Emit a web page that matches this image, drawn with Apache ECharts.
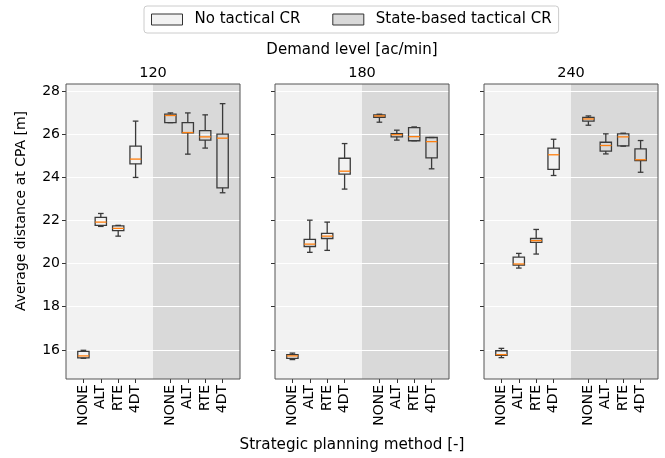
<!DOCTYPE html>
<html><head><meta charset="utf-8">
<script src="https://cdn.jsdelivr.net/npm/echarts@6/dist/echarts.min.js"></script>
<style>html,body{margin:0;padding:0;background:#fff}#c{width:665px;height:458px}</style>
</head><body><div id="c"></div>
<script>
const demandLevels = ['120', '180', '240'];
const methods = ['NONE', 'ALT', 'RTE', '4DT'];
const groups = ['No tactical CR', 'State-based tactical CR'];
const yTicks = [16, 18, 20, 22, 24, 26, 28];
const Y_MIN = 14.65, Y_MAX = 28.32;

// each row: [min, Q1, median, Q3, max] for NONE, ALT, RTE, 4DT
const noCR_120 = [
  [15.61, 15.63, 15.72, 15.93, 15.98],
  [21.72, 21.77, 21.92, 22.14, 22.32],
  [21.27, 21.53, 21.63, 21.75, 21.77],
  [23.99, 24.62, 24.84, 25.44, 26.60]
];
const stateCR_120 = [
  [26.53, 26.53, 26.86, 26.92, 26.98],
  [25.07, 26.06, 26.07, 26.53, 26.98],
  [25.35, 25.72, 25.87, 26.16, 26.89],
  [23.28, 23.51, 25.81, 26.00, 27.41]
];
const noCR_180 = [
  [15.55, 15.61, 15.72, 15.78, 15.85],
  [20.52, 20.79, 20.90, 21.12, 22.01],
  [20.61, 21.16, 21.27, 21.40, 21.92],
  [23.45, 24.14, 24.28, 24.88, 25.56]
];
const stateCR_180 = [
  [26.55, 26.78, 26.84, 26.89, 26.92],
  [25.72, 25.87, 25.97, 26.02, 26.18],
  [25.69, 25.69, 25.88, 26.30, 26.33],
  [24.39, 24.90, 25.65, 25.84, 25.84]
];
const noCR_240 = [
  [15.64, 15.75, 15.78, 15.96, 16.07],
  [19.79, 19.93, 19.98, 20.30, 20.47],
  [20.44, 20.98, 21.06, 21.16, 21.58],
  [24.08, 24.36, 25.04, 25.35, 25.76]
];
const stateCR_240 = [
  [26.41, 26.60, 26.70, 26.77, 26.84],
  [25.08, 25.21, 25.47, 25.62, 26.01],
  [25.44, 25.45, 25.87, 26.01, 26.04],
  [24.23, 24.77, 24.81, 25.31, 25.70]
];

const panelData = [[noCR_120, stateCR_120], [noCR_180, stateCR_180], [noCR_240, stateCR_240]];
const xTickPos = [1, 2, 3, 4, 6, 7, 8, 9];

const FONT = 'DejaVu Sans';
const lightBg = '#f2f2f2', darkBg = '#d9d9d9';
const boxColor = '#3a3a3a', medColor = '#ff7f0e';

const gridLefts = [66, 275, 484];
const GRID_TOP = 84, GRID_H = 295, GRID_W = 174;

function renderBox(params, api) {
  const x = api.value(0);
  const pMin = api.coord([x, api.value(1)]);
  const pQ1 = api.coord([x, api.value(2)]);
  const pMed = api.coord([x, api.value(3)]);
  const pQ3 = api.coord([x, api.value(4)]);
  const pMax = api.coord([x, api.value(5)]);
  const bw = api.size([0.65, 0])[0];
  const cw = bw / 2;
  const cx = pMin[0];
  const st = { stroke: boxColor, lineWidth: 1.3, fill: null };
  return {
    type: 'group',
    children: [
      { type: 'line', shape: { x1: cx, y1: pQ1[1], x2: cx, y2: pMin[1] }, style: st },
      { type: 'line', shape: { x1: cx, y1: pQ3[1], x2: cx, y2: pMax[1] }, style: st },
      { type: 'line', shape: { x1: cx - cw / 2, y1: pMin[1], x2: cx + cw / 2, y2: pMin[1] }, style: st },
      { type: 'line', shape: { x1: cx - cw / 2, y1: pMax[1], x2: cx + cw / 2, y2: pMax[1] }, style: st },
      { type: 'rect', shape: { x: cx - bw / 2, y: pQ3[1], width: bw, height: pQ1[1] - pQ3[1] }, style: { stroke: boxColor, lineWidth: 1.3, fill: 'rgba(0,0,0,0)' } },
      { type: 'line', shape: { x1: cx - bw / 2, y1: pMed[1], x2: cx + bw / 2, y2: pMed[1] }, style: { stroke: medColor, lineWidth: 1.3 } }
    ]
  };
}

const grids = [], xAxes = [], yAxes = [], series = [];
panelData.forEach((pd, p) => {
  grids.push({ left: gridLefts[p], top: GRID_TOP, width: GRID_W, height: GRID_H, containLabel: false });
  xAxes.push({
    type: 'value', gridIndex: p, min: 0, max: 10,
    axisLine: { show: false },
    splitLine: { show: false },
    axisTick: { show: true, length: 4, customValues: xTickPos, lineStyle: { color: '#333', width: 1 } },
    axisLabel: {
      customValues: xTickPos, rotate: 90, margin: 6, fontFamily: FONT, fontSize: 14, color: '#000',
      formatter: v => methods[(Math.round(v) - 1) % 5]
    }
  });
  yAxes.push({
    type: 'value', gridIndex: p, min: Y_MIN, max: Y_MAX,
    axisLine: { show: false },
    splitLine: { show: false },
    axisTick: { show: true, length: 4, customValues: yTicks, lineStyle: { color: '#333', width: 1 } },
    axisLabel: { show: p === 0, customValues: yTicks, margin: 6, fontFamily: FONT, fontSize: 14, color: '#000' }
  });
  pd.forEach((groupRows, g) => {
    const data = groupRows.map((r, i) => [1 + i + g * 5].concat(r));
    const s = {
      name: groups[g], type: 'custom', xAxisIndex: p, yAxisIndex: p, z: 10,
      renderItem: renderBox,
      encode: { x: 0, y: [1, 2, 3, 4, 5] },
      itemStyle: { color: g === 0 ? lightBg : darkBg, borderColor: boxColor },
      data: data,
      silent: true
    };
    if (g === 0) {
      s.markArea = {
        silent: true, z: 1,
        data: [
          [{ xAxis: 0, yAxis: Y_MIN, itemStyle: { color: lightBg } }, { xAxis: 5, yAxis: Y_MAX }],
          [{ xAxis: 5, yAxis: Y_MIN, itemStyle: { color: darkBg } }, { xAxis: 10, yAxis: Y_MAX }]
        ]
      };
      s.markLine = {
        silent: true, z: 2, symbol: 'none', label: { show: false },
        lineStyle: { color: '#ffffff', width: 1, type: 'solid' },
        data: yTicks.map(v => ({ yAxis: v }))
      };
    } else {
      s.markArea = {
        silent: true, z: 3,
        data: [
          [{ xAxis: 0, yAxis: Y_MIN, itemStyle: { color: 'rgba(0,0,0,0)', borderColor: '#555', borderWidth: 1 } }, { xAxis: 10, yAxis: Y_MAX }]
        ]
      };
    }
    series.push(s);
  });
});

const chart = echarts.init(document.getElementById('c'), null, { renderer: 'canvas' });
chart.setOption({
  animation: false,
  backgroundColor: '#ffffff',
  textStyle: { fontFamily: FONT },
  legend: {
    left: 144, top: 6, padding: [6, 7, 6, 7],
    itemWidth: 31, itemHeight: 11, itemGap: 32,
    borderColor: '#cccccc', borderWidth: 1, borderRadius: 3, backgroundColor: '#fff',
    textStyle: { fontFamily: FONT, fontSize: 15, color: '#000', padding: [0, 0, 0, 7] },
    selectedMode: false,
    data: [
      { name: groups[0], icon: 'rect', itemStyle: { color: lightBg, borderColor: '#333', borderWidth: 1 } },
      { name: groups[1], icon: 'rect', itemStyle: { color: darkBg, borderColor: '#333', borderWidth: 1 } }
    ]
  },
  grid: grids, xAxis: xAxes, yAxis: yAxes, series: series,
  graphic: [
    { type: 'text', x: 352, y: 50, style: { text: 'Demand level [ac/min]', font: '15px "DejaVu Sans"', fill: '#000', textAlign: 'center', textVerticalAlign: 'middle' } },
    { type: 'text', x: 153, y: 73, style: { text: demandLevels[0], font: '14.5px "DejaVu Sans"', fill: '#000', textAlign: 'center', textVerticalAlign: 'middle' } },
    { type: 'text', x: 362, y: 73, style: { text: demandLevels[1], font: '14.5px "DejaVu Sans"', fill: '#000', textAlign: 'center', textVerticalAlign: 'middle' } },
    { type: 'text', x: 571, y: 73, style: { text: demandLevels[2], font: '14.5px "DejaVu Sans"', fill: '#000', textAlign: 'center', textVerticalAlign: 'middle' } },
    { type: 'text', x: 21, y: 211, rotation: Math.PI / 2, style: { text: 'Average distance at CPA [m]', font: '14px "DejaVu Sans"', fill: '#000', textAlign: 'center', textVerticalAlign: 'middle' } },
    { type: 'text', x: 352, y: 445, style: { text: 'Strategic planning method [-]', font: '15.2px "DejaVu Sans"', fill: '#000', textAlign: 'center', textVerticalAlign: 'middle' } }
  ]
});
</script></body></html>
